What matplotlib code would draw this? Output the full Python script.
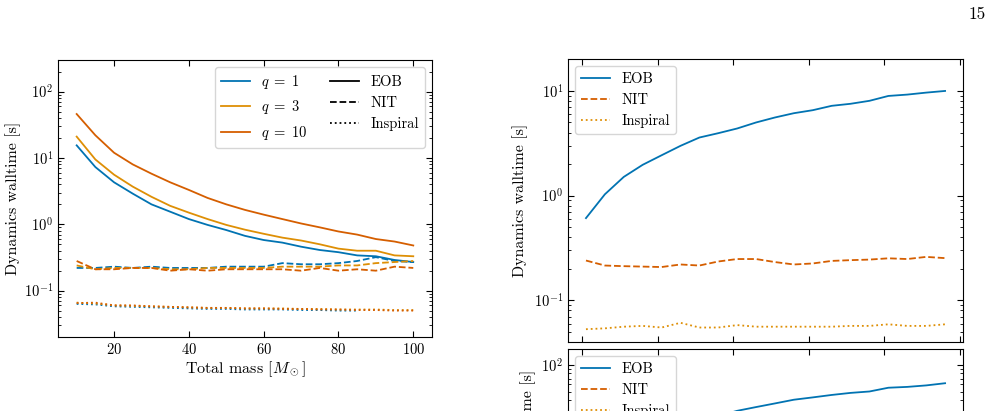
import numpy as np
import matplotlib
matplotlib.use("Agg")
import matplotlib.pyplot as plt
from matplotlib.lines import Line2D

plt.rcParams['font.family'] = 'serif'
plt.rcParams['font.serif'] = ['cmr10']
plt.rcParams['mathtext.fontset'] = 'cm'
plt.rcParams['axes.formatter.use_mathtext'] = True
plt.rcParams['axes.unicode_minus'] = False

# left panel: walltime vs total mass
mass = [10, 15, 20, 25, 30, 35, 40, 45, 50, 55, 60, 65, 70, 75, 80, 85, 90, 95, 100]
eob_q1 = [15.5, 7.3, 4.3, 2.9, 2.0, 1.55, 1.2, 0.98, 0.82, 0.67, 0.58, 0.53, 0.46, 0.41, 0.38, 0.34, 0.33, 0.29, 0.27]
eob_q3 = [21, 9.5, 5.6, 3.7, 2.6, 1.9, 1.5, 1.2, 0.98, 0.83, 0.72, 0.63, 0.57, 0.5, 0.43, 0.4, 0.4, 0.34, 0.33]
eob_q10 = [46, 22, 12, 8, 5.8, 4.3, 3.3, 2.5, 2.0, 1.65, 1.4, 1.2, 1.03, 0.9, 0.78, 0.7, 0.6, 0.55, 0.48]
nit_q1 = [0.22, 0.22, 0.23, 0.22, 0.23, 0.22, 0.22, 0.22, 0.23, 0.23, 0.23, 0.26, 0.25, 0.25, 0.26, 0.28, 0.32, 0.28, 0.27]
nit_q3 = [0.24, 0.21, 0.22, 0.22, 0.22, 0.21, 0.21, 0.22, 0.22, 0.22, 0.22, 0.23, 0.23, 0.23, 0.24, 0.24, 0.26, 0.27, 0.28]
nit_q10 = [0.28, 0.21, 0.21, 0.22, 0.22, 0.2, 0.21, 0.2, 0.21, 0.21, 0.21, 0.21, 0.2, 0.22, 0.2, 0.21, 0.2, 0.23, 0.22]
insp_q1 = [0.063, 0.062, 0.058, 0.057, 0.056, 0.055, 0.054, 0.053, 0.053, 0.052, 0.052, 0.052, 0.051, 0.051, 0.05, 0.05]
insp_q3 = [0.066, 0.064, 0.06, 0.059, 0.058, 0.057, 0.056, 0.055, 0.055, 0.054, 0.054, 0.054, 0.053, 0.053, 0.052, 0.052, 0.052, 0.051, 0.051]
insp_q10 = [0.065, 0.066, 0.06, 0.06, 0.058, 0.057, 0.056, 0.055, 0.055, 0.054, 0.054, 0.053, 0.053, 0.052, 0.052, 0.051, 0.051, 0.05, 0.05]

# right panels
idx = np.arange(1, 21)
top_eob = [0.61, 1.03, 1.51, 1.97, 2.43, 2.99, 3.59, 3.95, 4.38, 5.0, 5.58, 6.13, 6.55, 7.21, 7.54, 8.05, 8.96, 9.23, 9.64, 10.0]
top_nit = [0.24, 0.215, 0.212, 0.21, 0.208, 0.22, 0.215, 0.235, 0.248, 0.248, 0.232, 0.22, 0.225, 0.238, 0.242, 0.245, 0.252, 0.248, 0.26, 0.253]
top_insp = [0.053, 0.054, 0.056, 0.057, 0.055, 0.061, 0.055, 0.055, 0.058, 0.056, 0.056, 0.056, 0.056, 0.056, 0.057, 0.057, 0.059, 0.057, 0.057, 0.059]
bot_eob = [3.8, 6.5, 9.5, 12.5, 15.5, 19, 23, 26.5, 30.4, 33.5, 36.8, 40.5, 43, 45.8, 48.3, 50.1, 55.2, 56.4, 58.6, 62]
bot_nit = [0.24, 0.22, 0.21, 0.21, 0.21, 0.22, 0.22, 0.23, 0.24, 0.25, 0.23, 0.22, 0.23, 0.24, 0.24, 0.25, 0.25, 0.25, 0.26, 0.25]
bot_insp = [0.054, 0.055, 0.056, 0.056, 0.056, 0.058, 0.056, 0.056, 0.057, 0.056, 0.056, 0.056, 0.056, 0.057, 0.057, 0.057, 0.058, 0.057, 0.058, 0.059]

c_q1 = '#0173B2'
c_q3 = '#DE8F05'
c_q10 = '#D55E00'

def style(ax):
    ax.tick_params(which='both', direction='in', top=True, right=True, labelsize=10.5)
    ax.tick_params(which='major', length=4)
    ax.tick_params(which='minor', length=2)

fig = plt.figure(figsize=(9.96, 4.11), dpi=100)

# left
ax = fig.add_axes([0.0582, 0.180, 0.3755, 0.674])
ax.plot(mass, eob_q1, color=c_q1, lw=1.3)
ax.plot(mass, eob_q3, color=c_q3, lw=1.3)
ax.plot(mass, eob_q10, color=c_q10, lw=1.3)
ax.plot(mass, nit_q1, color=c_q1, ls='--', lw=1.3)
ax.plot(mass, nit_q3, color=c_q3, ls='--', lw=1.3)
ax.plot(mass, nit_q10, color=c_q10, ls='--', lw=1.3)
ax.plot(mass[:len(insp_q1)], insp_q1, color=c_q1, ls=':', lw=1.3)
ax.plot(mass, insp_q3, color=c_q3, ls=':', lw=1.3)
ax.plot(mass, insp_q10, color=c_q10, ls=':', lw=1.3)
ax.set_yscale('log')
ax.set_xlim(5, 105)
ax.set_ylim(0.02, 300)
ax.set_xticks([20, 40, 60, 80, 100])
ax.set_xlabel(r'Total mass [$M_\odot$]', fontsize=11.5, labelpad=2)
ax.set_ylabel('Dynamics walltime [s]', fontsize=11.5, labelpad=2)
style(ax)
handles = [Line2D([], [], color=c_q1, lw=1.3), Line2D([], [], color=c_q3, lw=1.3),
           Line2D([], [], color=c_q10, lw=1.3), Line2D([], [], color='k', lw=1.3),
           Line2D([], [], color='k', ls='--', lw=1.3), Line2D([], [], color='k', ls=':', lw=1.3)]
labels = [r'$q\;=\;1$', r'$q\;=\;3$', r'$q\;=\;10$', 'EOB', 'NIT', 'Inspiral']
ax.legend(handles, labels, ncol=2, loc='upper right', fontsize=10.5, columnspacing=1.5)

# right top
ax1 = fig.add_axes([0.5703, 0.1679, 0.3966, 0.6886])
ax1.plot(idx, top_eob, color=c_q1, lw=1.3, label='EOB')
ax1.plot(idx, top_nit, color=c_q10, ls='--', lw=1.3, label='NIT')
ax1.plot(idx, top_insp, color=c_q3, ls=':', lw=1.3, label='Inspiral')
ax1.set_yscale('log')
ax1.set_ylim(0.04, 20.2)
ax1.set_xlim(0.05, 20.95)
ax1.set_xticks(np.arange(0.79, 21, 4))
ax1.set_xticklabels([])
ax1.set_ylabel('Dynamics walltime [s]', fontsize=11.5, labelpad=4)
style(ax1)
ax1.legend(loc='upper left', fontsize=10.5)

# right bottom (cut by the page edge)
ax2 = fig.add_axes([0.5703, -0.3212, 0.3966, 0.472])
ax2.plot(idx, bot_eob, color=c_q1, lw=1.3, label='EOB')
ax2.plot(idx, bot_nit, color=c_q10, ls='--', lw=1.3, label='NIT')
ax2.plot(idx, bot_insp, color=c_q3, ls=':', lw=1.3, label='Inspiral')
ax2.set_yscale('log')
ax2.set_ylim(1, 150)
ax2.set_xlim(0.05, 20.95)
ax2.set_xticks(np.arange(0.79, 21, 4))
ax2.set_xticklabels([])
ax2.set_ylabel('Dynamics walltime [s]', fontsize=11.5, labelpad=4)
style(ax2)
ax2.legend(loc='upper left', fontsize=10.5)

fig.text(0.99, 0.965, '15', fontsize=12.5, ha='right', va='center')

fig.savefig('out.png', dpi=100)
